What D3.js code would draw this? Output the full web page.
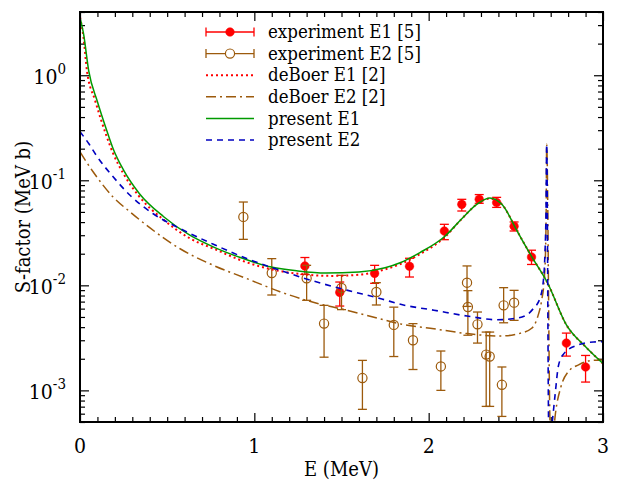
<!DOCTYPE html>
<html>
<head>
<meta charset="utf-8">
<script src="https://cdn.jsdelivr.net/npm/d3@7"></script>
<style>
  body { margin: 0; background: #fff; }
</style>
</head>
<body>
<script>
// measured values: [E (MeV), S (MeV b), low, high]
const expE1 = [
  [1.29, 0.0153, 0.0127, 0.0184],
  [1.49, 0.00857, 0.00635, 0.01075],
  [1.69, 0.0130, 0.01045, 0.0155],
  [1.89, 0.0152, 0.0120, 0.0181],
  [2.09, 0.0329, 0.0272, 0.0381],
  [2.19, 0.059, 0.051, 0.0659],
  [2.29, 0.066, 0.0604, 0.0731],
  [2.39, 0.0614, 0.0552, 0.0688],
  [2.49, 0.0365, 0.0329, 0.0401],
  [2.59, 0.0186, 0.0158, 0.0216],
  [2.79, 0.00282, 0.00212, 0.00351],
  [2.90, 0.00167, 0.0012, 0.00215],
];

const expE2 = [
  [0.937, 0.0448, 0.0274, 0.0621],
  [1.10, 0.0131, 0.00809, 0.01795],
  [1.30, 0.01166, 0.0072, 0.0155],
  [1.40, 0.00432, 0.00207, 0.00645],
  [1.50, 0.00944, 0.00587, 0.01245],
  [1.62, 0.00131, 0.00066, 0.00193],
  [1.70, 0.00865, 0.0065, 0.0106],
  [1.80, 0.0042, 0.0021, 0.0062],
  [1.91, 0.0030, 0.00158, 0.00432],
  [2.07, 0.00169, 0.0010, 0.00237],
  [2.22, 0.0106, 0.0063, 0.0153],
  [2.225, 0.00622, 0.00335, 0.0089],
  [2.28, 0.00425, 0.00282, 0.00557],
  [2.33, 0.00219, 0.000704, 0.00359],
  [2.35, 0.0021, 0.000704, 0.00359],
  [2.42, 0.00113, 0.000565, 0.00167],
  [2.43, 0.00645, 0.0044, 0.0095],
  [2.49, 0.00684, 0.00464, 0.00896],
];

const deBoerE1 = [
  [0, 3.56], [0.02, 2.3], [0.04, 1.1], [0.086, 0.58], [0.15, 0.27], [0.19, 0.18],
  [0.25, 0.115], [0.34, 0.07], [0.48, 0.042], [0.63, 0.028], [0.77, 0.0222],
  [0.92, 0.0174], [1.09, 0.0143], [1.25, 0.0129], [1.45, 0.0123], [1.6, 0.0126],
  [1.75, 0.0142], [1.84, 0.016], [1.95, 0.0198], [2.09, 0.0285], [2.19, 0.043],
  [2.27, 0.058], [2.35, 0.067], [2.42, 0.059], [2.45, 0.05], [2.49, 0.0373],
  [2.59, 0.0189], [2.68, 0.0107], [2.79, 0.0042], [2.9, 0.0026], [3.0, 0.0018],
];

const deBoerE2 = [
  [0, 0.186], [0.076, 0.12], [0.19, 0.0693], [0.287, 0.05], [0.382, 0.0373],
  [0.574, 0.0223], [0.765, 0.0155], [0.956, 0.0116], [1.147, 0.0087], [1.338, 0.0069],
  [1.53, 0.0058], [1.72, 0.0048], [1.835, 0.0043], [2.03, 0.00386], [2.22, 0.00347],
  [2.41, 0.00329], [2.524, 0.00349], [2.591, 0.0039], [2.625, 0.005], [2.648, 0.0072],
  [2.662, 0.011], [2.67, 0.02], [2.674, 0.05], [2.677, 0.22], [2.696, 0.0005],
  [2.705, 0.0003], [2.716, 0.0004], [2.725, 0.00056], [2.76, 0.0011], [2.8, 0.0015],
  [2.86, 0.00175], [2.925, 0.00192], [3.0, 0.00195],
];

const presentE1 = [
  [0, 3.56], [0.02, 2.5], [0.05, 1.1], [0.1, 0.56], [0.15, 0.31], [0.19, 0.2],
  [0.25, 0.125], [0.34, 0.075], [0.48, 0.045], [0.63, 0.03], [0.77, 0.023],
  [0.92, 0.0184], [1.09, 0.015], [1.25, 0.0137], [1.41, 0.0131], [1.6, 0.0134],
  [1.75, 0.0147], [1.84, 0.0165], [1.95, 0.0205], [2.09, 0.029], [2.19, 0.043],
  [2.27, 0.058], [2.35, 0.068], [2.42, 0.059], [2.45, 0.05], [2.49, 0.0373],
  [2.59, 0.0189], [2.68, 0.0107], [2.79, 0.0042], [2.9, 0.0026], [3.0, 0.0018],
];

const presentE2 = [
  [0, 0.29], [0.053, 0.22], [0.096, 0.17], [0.19, 0.108], [0.287, 0.072], [0.42, 0.048],
  [0.574, 0.0347], [0.765, 0.0246], [0.956, 0.018], [1.147, 0.0139], [1.338, 0.011],
  [1.53, 0.009], [1.72, 0.0075], [1.855, 0.0065], [2.03, 0.0058], [2.22, 0.0051],
  [2.39, 0.0047], [2.48, 0.0048], [2.56, 0.0052], [2.6, 0.006], [2.638, 0.0075],
  [2.66, 0.012], [2.667, 0.02], [2.673, 0.05], [2.677, 0.22], [2.689, 0.0004],
  [2.699, 0.00035], [2.709, 0.0005], [2.725, 0.0009], [2.744, 0.0017], [2.772, 0.0022],
  [2.85, 0.00268], [2.945, 0.00289], [3.0, 0.0029],
];

const xTicks = [0, 1, 2, 3];
const yTicks = [1e-3, 1e-2, 1e-1, 1];
const yTickExp = ["-3", "-2", "-1", "0"];
const legendLabels = [
  "experiment E1 [5]", "experiment E2 [5]", "deBoer E1 [2]",
  "deBoer E2 [2]", "present E1", "present E2",
];

const width = 620;
const height = 487;
const margin = { top: 12, right: 17, bottom: 65, left: 80 };
const font = "DejaVu Serif Condensed, DejaVu Serif, serif";

const red = "#ff0000";
const brown = "#9c5a0c";
const green = "#009a00";
const blue = "#0000c0";

const svg = d3
  .select("body")
  .append("svg")
  .attr("width", width)
  .attr("height", height)
  .style("font-family", font)
  .style("font-stretch", "condensed");

const x = d3
  .scaleLinear()
  .domain([0, 3])
  .range([margin.left, width - margin.right]);

const y = d3
  .scaleLog()
  .domain([5e-4, 4])
  .range([height - margin.bottom, margin.top]);

svg
  .append("clipPath")
  .attr("id", "plot-clip")
  .append("rect")
  .attr("x", margin.left)
  .attr("y", margin.top)
  .attr("width", width - margin.left - margin.right)
  .attr("height", height - margin.top - margin.bottom);

// minor tick positions
const xMinor = d3.range(0, 31).map((i) => i / 10).filter((v) => !xTicks.includes(v));
const yMinor = [];
for (let e = -4; e <= 0; e++) {
  for (let m = 2; m <= 9; m++) {
    const v = m * Math.pow(10, e);
    if (v >= 5e-4 && v <= 4) yMinor.push(v);
  }
}

function drawAxis(axis, tx, ty) {
  svg
    .append("g")
    .attr("transform", `translate(${tx},${ty})`)
    .call(axis)
    .call((g) => g.select(".domain").remove())
    .call((g) => g.selectAll("line").attr("stroke", "#000").attr("stroke-width", 1.2));
}

const x0 = margin.left, x1 = width - margin.right;
const y0 = height - margin.bottom, y1 = margin.top;

drawAxis(d3.axisBottom(x).tickValues(xTicks).tickSize(-9).tickFormat(""), 0, y0);
drawAxis(d3.axisBottom(x).tickValues(xMinor).tickSize(-5).tickFormat(""), 0, y0);
drawAxis(d3.axisTop(x).tickValues(xTicks).tickSize(-9).tickFormat(""), 0, y1);
drawAxis(d3.axisTop(x).tickValues(xMinor).tickSize(-5).tickFormat(""), 0, y1);
drawAxis(d3.axisLeft(y).tickValues(yTicks).tickSize(-9).tickFormat(""), x0, 0);
drawAxis(d3.axisLeft(y).tickValues(yMinor).tickSize(-5).tickFormat(""), x0, 0);
drawAxis(d3.axisRight(y).tickValues(yTicks).tickSize(-9).tickFormat(""), x1, 0);
drawAxis(d3.axisRight(y).tickValues(yMinor).tickSize(-5).tickFormat(""), x1, 0);

// tick labels
svg
  .selectAll("text.xlab")
  .data(xTicks)
  .join("text")
  .attr("class", "xlab")
  .attr("x", (d) => x(d))
  .attr("y", y0 + 31)
  .attr("text-anchor", "middle")
  .attr("font-size", 21)
  .text((d) => d);

const ylab = svg
  .selectAll("text.ylab")
  .data(yTicks)
  .join("text")
  .attr("class", "ylab")
  .attr("x", x0 - 14)
  .attr("y", (d) => y(d) + 9)
  .attr("text-anchor", "end")
  .attr("font-size", 21);
ylab.append("tspan").text("10");
ylab
  .append("tspan")
  .attr("dy", -10)
  .attr("font-size", 15)
  .text((d, i) => yTickExp[i]);

// axis titles
svg
  .append("text")
  .attr("x", (x0 + x1) / 2)
  .attr("y", 476)
  .attr("text-anchor", "middle")
  .attr("font-size", 20)
  .text("E (MeV)");

svg
  .append("text")
  .attr("transform", `translate(23,${(y0 + y1) / 2}) rotate(-90)`)
  .attr("text-anchor", "middle")
  .attr("dy", "0.35em")
  .attr("font-size", 20)
  .text("S-factor (MeV b)");

// data
const plot = svg.append("g").attr("clip-path", "url(#plot-clip)");

function errorPoints(data, color, filled) {
  const g = plot.append("g");
  const pts = g.selectAll("g").data(data).join("g");
  pts
    .append("line")
    .attr("x1", (d) => x(d[0]))
    .attr("x2", (d) => x(d[0]))
    .attr("y1", (d) => y(d[2]))
    .attr("y2", (d) => y(d[3]))
    .attr("stroke", color)
    .attr("stroke-width", 1.3);
  [2, 3].forEach((k) => {
    pts
      .append("line")
      .attr("x1", (d) => x(d[0]) - 4.5)
      .attr("x2", (d) => x(d[0]) + 4.5)
      .attr("y1", (d) => y(d[k]))
      .attr("y2", (d) => y(d[k]))
      .attr("stroke", color)
      .attr("stroke-width", 1.3);
  });
  pts
    .append("circle")
    .attr("cx", (d) => x(d[0]))
    .attr("cy", (d) => y(d[1]))
    .attr("r", filled ? 4.3 : 4.6)
    .attr("fill", filled ? color : "none")
    .attr("stroke", color)
    .attr("stroke-width", filled ? 0.5 : 1.2);
}

errorPoints(expE1, red, true);
errorPoints(expE2, brown, false);

const line = d3
  .line()
  .x((d) => x(d[0]))
  .y((d) => y(d[1]))
  .curve(d3.curveMonotoneX);

const curves = [
  { data: deBoerE1, color: red, dash: "2,3", w: 2 },
  { data: deBoerE2, color: brown, dash: "10,4,2,4", w: 1.5 },
  { data: presentE1, color: green, dash: null, w: 1.5 },
  { data: presentE2, color: blue, dash: "6,5", w: 1.6 },
];

curves.forEach((c) => {
  plot
    .append("path")
    .datum(c.data)
    .attr("d", line)
    .attr("fill", "none")
    .attr("stroke", c.color)
    .attr("stroke-width", c.w)
    .attr("stroke-dasharray", c.dash);
});

// frame
svg
  .append("rect")
  .attr("x", x0)
  .attr("y", y1)
  .attr("width", x1 - x0)
  .attr("height", y0 - y1)
  .attr("fill", "none")
  .attr("stroke", "#000")
  .attr("stroke-width", 2);

// legend
const legend = svg.append("g");
const lx0 = 206, lx1 = 254, ltx = 268;
const ly = (i) => 32 + i * 21.6;

legendLabels.forEach((label, i) => {
  legend
    .append("text")
    .attr("x", ltx)
    .attr("y", ly(i))
    .attr("dy", "0.33em")
    .attr("font-size", 18.5)
    .text(label);
});

[0, 1].forEach((i) => {
  const color = i === 0 ? red : brown;
  legend.append("line")
    .attr("x1", lx0).attr("x2", lx1).attr("y1", ly(i)).attr("y2", ly(i))
    .attr("stroke", color).attr("stroke-width", 1.3);
  [lx0, lx1].forEach((cx) => {
    legend.append("line")
      .attr("x1", cx).attr("x2", cx).attr("y1", ly(i) - 4.5).attr("y2", ly(i) + 4.5)
      .attr("stroke", color).attr("stroke-width", 1.3);
  });
  legend.append("circle")
    .attr("cx", (lx0 + lx1) / 2).attr("cy", ly(i))
    .attr("r", i === 0 ? 4.3 : 4.6)
    .attr("fill", i === 0 ? color : "#fff")
    .attr("stroke", color).attr("stroke-width", i === 0 ? 0.5 : 1.2);
});

curves.forEach((c, k) => {
  legend.append("line")
    .attr("x1", lx0).attr("x2", lx1).attr("y1", ly(k + 2)).attr("y2", ly(k + 2))
    .attr("stroke", c.color)
    .attr("stroke-width", c.w)
    .attr("stroke-dasharray", c.dash);
});
</script>
</body>
</html>
